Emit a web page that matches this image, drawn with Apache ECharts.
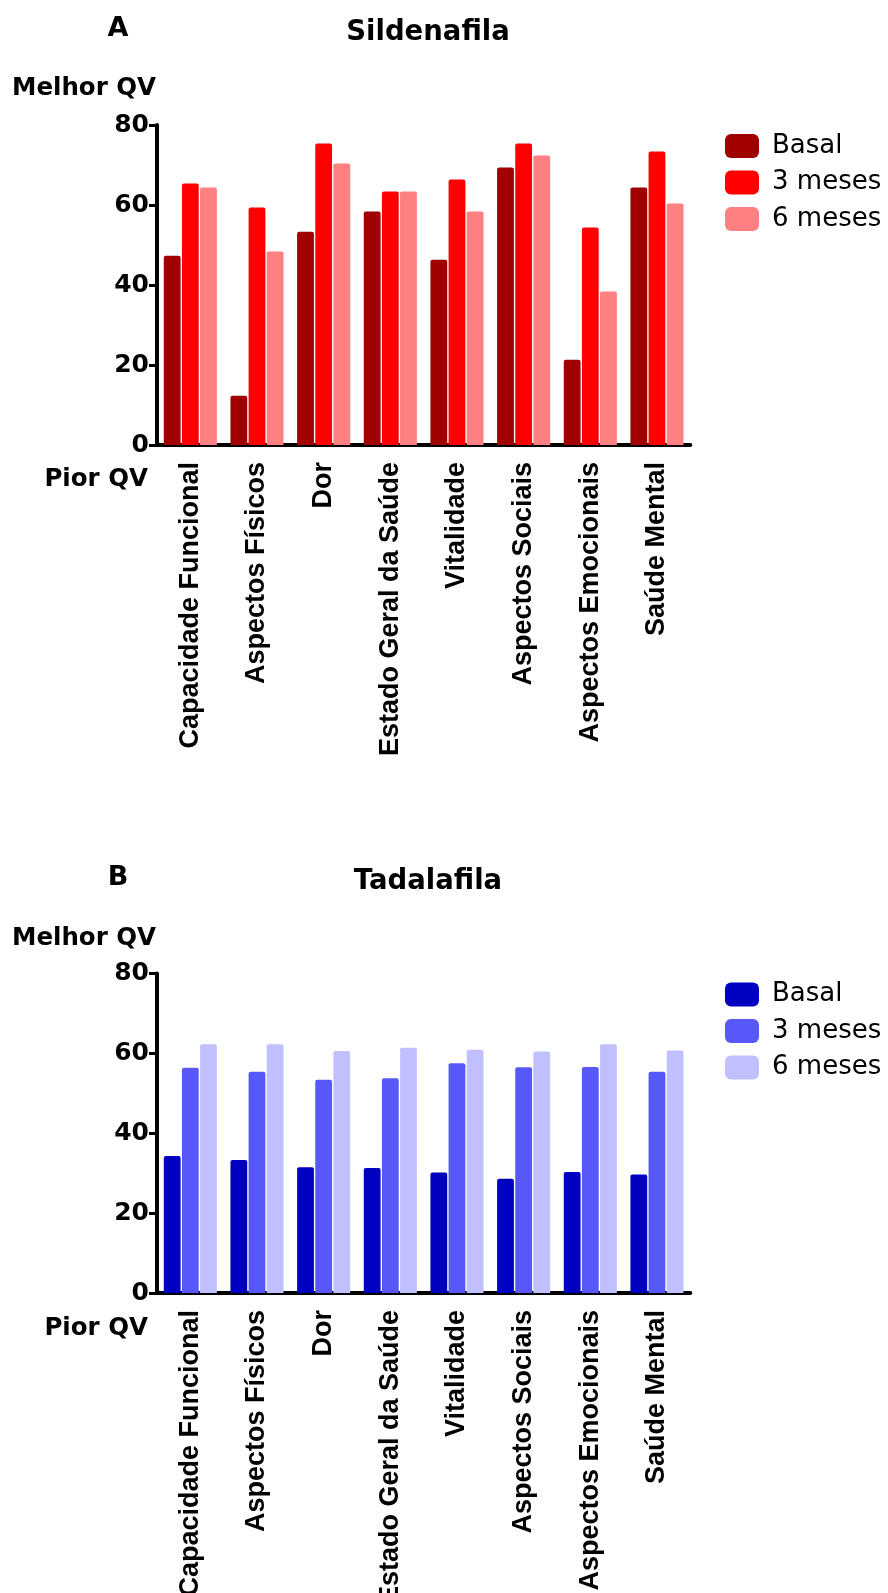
<!DOCTYPE html>
<html>
<head>
<meta charset="utf-8">
<script src="https://cdn.jsdelivr.net/npm/echarts@6/dist/echarts.min.js"></script>
<style>
html,body{margin:0;padding:0;background:#fff;}
#c{width:888px;height:1593px;}
</style>
</head>
<body>
<div id="c"></div>
<script>
const categories = ['Capacidade Funcional','Aspectos Físicos','Dor','Estado Geral da Saúde','Vitalidade','Aspectos Sociais','Aspectos Emocionais','Saúde Mental'];
const seriesNames = ['Basal','3 meses','6 meses'];
const sildBasal = [47.3, 12.3, 53.3, 58.4, 46.3, 69.4, 21.3, 64.4];
const sild3m    = [65.4, 59.4, 75.4, 63.4, 66.4, 75.4, 54.4, 73.4];
const sild6m    = [64.4, 48.4, 70.4, 63.4, 58.4, 72.4, 38.4, 60.4];
const tadaBasal = [34.3, 33.3, 31.5, 31.3, 30.2, 28.6, 30.3, 29.7];
const tada3m    = [56.4, 55.4, 53.4, 53.8, 57.5, 56.5, 56.6, 55.4];
const tada6m    = [62.3, 62.3, 60.6, 61.4, 60.9, 60.5, 62.3, 60.7];
const yMin = 0, yMax = 80, yStep = 20;

const redColors = ['#A00000','#FF0000','#FF8080'];
const blueColors = ['#0000C0','#5858F8','#C0C0FF'];

const hFont = '"DejaVu Sans", sans-serif';
const lFont = '"Liberation Sans", Arial, sans-serif';

function xAxis(gi){
  return {
    type:'category', gridIndex:gi, data:categories,
    axisLine:{lineStyle:{color:'#000',width:4}},
    axisTick:{alignWithLabel:true,length:7,lineStyle:{color:'#000',width:3}},
    axisLabel:{rotate:90,margin:17,color:'#000',fontFamily:lFont,fontWeight:'bold',fontSize:27,interval:0}
  };
}
function yAxis(gi){
  return {
    type:'value', gridIndex:gi, min:yMin, max:yMax, interval:yStep,
    axisLine:{show:true,lineStyle:{color:'#000',width:4}},
    axisTick:{show:true,length:8,lineStyle:{color:'#000',width:3}},
    splitLine:{show:false},
    axisLabel:{margin:8,color:'#000',fontFamily:hFont,fontWeight:'bold',fontSize:25}
  };
}
function bars(gi, arrs, colors){
  return arrs.map((d,i)=>({
    type:'bar', name:seriesNames[i], xAxisIndex:gi, yAxisIndex:gi, data:d,
    barWidth:16.8, barGap:'8%',
    itemStyle:{color:colors[i],borderRadius:[2,2,0,0]},
    emphasis:{disabled:true}
  }));
}
function legend(top, colors){
  return {
    orient:'vertical', left:720, top:top, itemWidth:34, itemHeight:24, itemGap:10.5,
    icon:'roundRect', selectedMode:false,
    textStyle:{color:'#000',fontFamily:hFont,fontSize:26,lineHeight:24,padding:[0,0,0,8]},
    data: seriesNames.map((n,i)=>({name:n,itemStyle:{color:colors[i]}}))
  };
}
function txt(text,x,y,size,align,weight){
  return {type:'text',x:x,y:y,style:{text:text,font:(weight||'bold')+' '+size+'px '+hFont,fill:'#000',textAlign:align,textVerticalAlign:'middle'}};
}
const off = 848.5;
const option = {
  animation:false,
  backgroundColor:'#fff',
  grid:[
    {left:157, top:125, width:533.3, height:320, outerBoundsMode:'none', containLabel:false},
    {left:157, top:125+off, width:533.3, height:319.5, outerBoundsMode:'none', containLabel:false}
  ],
  xAxis:[xAxis(0), xAxis(1)],
  yAxis:[yAxis(0), yAxis(1)],
  legend:[legend(128, redColors), legend(128+off, blueColors)],
  series:[...bars(0,[sildBasal,sild3m,sild6m],redColors), ...bars(1,[tadaBasal,tada3m,tada6m],blueColors)],
  graphic:[
    txt('A',118,29,27,'center'),
    txt('Sildenafila',428,33,27.5,'center'),
    txt('Melhor QV',12,89,24.5,'left'),
    txt('Pior QV',148,480,24.5,'right'),
    txt('B',118,29+off,27,'center'),
    txt('Tadalafila',428,33+off,27.5,'center'),
    txt('Melhor QV',12,90+off,24.5,'left'),
    txt('Pior QV',148,480+off,24.5,'right')
  ]
};
const chart = echarts.init(document.getElementById('c'));
chart.setOption(option);
</script>
</body>
</html>
